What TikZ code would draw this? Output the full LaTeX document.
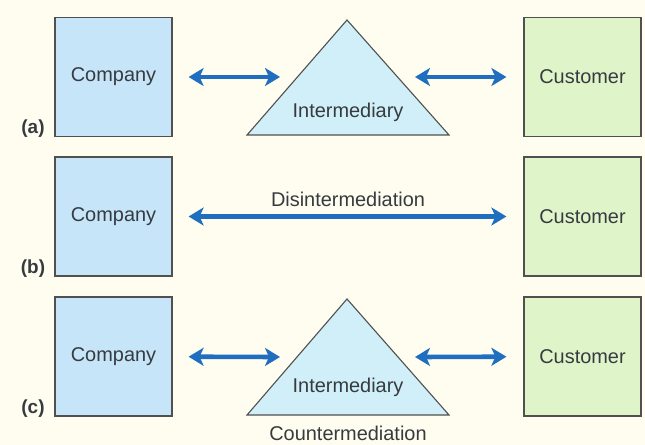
\documentclass[tikz,border=0pt]{standalone}
\usepackage{fontspec}
\setmainfont{Liberation Sans}
\usetikzlibrary{arrows.meta}
\definecolor{paper}{HTML}{FFFDF0}
\definecolor{edge}{HTML}{505050}
\definecolor{compfill}{HTML}{C6E5F9}
\definecolor{custfill}{HTML}{E0F4CA}
\definecolor{trifill}{HTML}{D0EFF8}
\definecolor{flow}{HTML}{1F6EC0}
\definecolor{ink}{HTML}{363B3F}
\tikzset{
  party/.style={draw=edge, line width=1.2bp, minimum width=117bp, minimum height=119bp,
    inner sep=0pt, text=ink, font=\fontsize{20}{24}\selectfont},
  comp/.style={party, fill=compfill},
  cust/.style={party, fill=custfill},
  middle/.style={draw=edge, line width=1.1bp, fill=trifill, line join=miter},
  caption/.style={text=ink, inner sep=0pt, font=\fontsize{20}{24}\selectfont},
  rowlabel/.style={text=ink, inner sep=0pt, font=\fontsize{19}{22}\selectfont\bfseries},
  link/.style={draw=flow, line width=4.6bp, {Stealth[length=15bp,width=18bp,inset=4bp]}-{Stealth[length=15bp,width=18bp,inset=4bp]}}
}
\begin{document}
\begin{tikzpicture}[x=1bp,y=-1bp]
  \fill[paper] (0,0) rectangle (645,445);
  \useasboundingbox (0,0) rectangle (645,445);

  % ---- row (a): company -- intermediary -- customer
  \node[comp] (ca) at (113.5,77) {Company};
  \node[cust] (ua) at (582.5,77) {Customer};
  \coordinate (ta1) at (247,135);
  \coordinate (ta2) at (347,20);
  \coordinate (ta3) at (449,135);
  \draw[middle] (ta1) -- (ta2) -- (ta3) -- cycle;
  \node[caption] (ia) at (348,112) {Intermediary};
  \coordinate (la) at (280,77);
  \coordinate (ra) at (415,77);
  \draw[link, shorten <=16bp] (ca) -- (la);
  \draw[link, shorten >=17bp] (ra) -- (ua);
  \node[rowlabel] (lbla) at (33,129) {(a)};

  % ---- row (b): direct link
  \node[comp] (cb) at (113.5,216.5) {Company};
  \node[cust] (ub) at (582.5,216.5) {Customer};
  \draw[link, shorten <=16bp, shorten >=17bp] (cb) -- (ub);
  \node[caption] (db) at (348,199) {Disintermediation};
  \node[rowlabel] (lblb) at (33,269) {(b)};

  % ---- row (c): the intermediary comes back
  \node[comp] (cc) at (113.5,356.5) {Company};
  \node[cust] (uc) at (582.5,356.5) {Customer};
  \coordinate (tc1) at (247,415);
  \coordinate (tc2) at (347,299);
  \coordinate (tc3) at (449,415);
  \draw[middle] (tc1) -- (tc2) -- (tc3) -- cycle;
  \node[caption] (ic) at (348,387) {Intermediary};
  \node[caption] (kc) at (348,433) {Countermediation};
  \coordinate (lc) at (280,357);
  \coordinate (rc) at (415,357);
  \draw[link, shorten <=16bp] (cc) -- (lc);
  \draw[link, shorten >=17bp] (rc) -- (uc);
  \node[rowlabel] (lblc) at (33,409) {(c)};
\end{tikzpicture}
\end{document}
